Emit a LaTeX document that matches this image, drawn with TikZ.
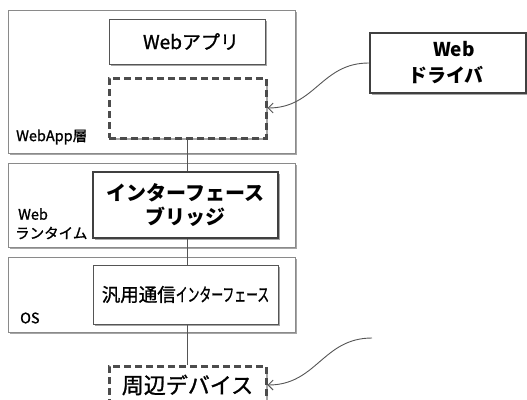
\documentclass[tikz,border=0pt]{standalone}
\usepackage{fontspec}
\setmainfont{Noto Sans CJK JP}[UprightFeatures={FakeBold=1.2}]
\usetikzlibrary{shadows,arrows.meta}
\definecolor{edge}{HTML}{555555}
\definecolor{layeredge}{HTML}{8A8A8A}
\tikzset{
  shd/.style={drop shadow={shadow xshift=2pt,shadow yshift=-2pt,fill=black,opacity=0.35}},
  layer/.style={draw=layeredge,line width=0.8pt,fill=white,shd,inner sep=0pt},
  plainbox/.style={draw=edge,line width=1pt,fill=white,shd,inner sep=0pt,align=center},
  thickbox/.style={draw=black!75,line width=2.5pt,fill=white,shd,inner sep=0pt,align=center,font=\bfseries},
  dashbox/.style={draw=black!70,line width=3pt,dash pattern=on 7pt off 4pt,fill=white,shd,inner sep=0pt,align=center},
  link/.style={draw=edge,line width=1pt},
  curvearrow/.style={draw=edge,line width=0.9pt,-{Straight Barb[length=5pt,width=10pt]}},
  lbl/.style={anchor=west,inner sep=0pt,font=\fontsize{14.5}{16}\selectfont}
}
\begin{document}
\begin{tikzpicture}[x=1pt,y=-1pt]
\useasboundingbox (0,0) rectangle (527,399);
\clip (0,0) rectangle (527,399);
% layers
\node[layer,minimum width=287pt,minimum height=143pt] (applayer) at (151.5,81.5) {};
\node[layer,minimum width=287pt,minimum height=84pt] (rtlayer) at (151.5,205) {};
\node[layer,minimum width=287pt,minimum height=75pt] (oslayer) at (151.5,294.5) {};
\node[lbl] (applbl) at (16,137) {WebApp層};
\node[lbl] (rtlbl1) at (18,214) {Web};
\node[lbl] (rtlbl2) at (15,233) {ランタイム};
\node[lbl] (oslbl) at (20,318) {OS};
% inner boxes
\node[plainbox,minimum width=156pt,minimum height=45pt,font=\fontsize{19}{20}\selectfont] (webapp) at (187,41.5) {\hspace*{8pt}Webアプリ};
\node[dashbox,minimum width=157pt,minimum height=60pt] (hidden) at (187.5,108) {};
\node[thickbox,minimum width=185pt,minimum height=66pt,font=\bfseries\fontsize{20}{24}\selectfont] (bridge) at (185.5,205) {インターフェース\\ブリッジ};
\node[plainbox,minimum width=185pt,minimum height=59pt,font=\fontsize{18.5}{20}\selectfont] (generic) at (185.5,294.5) {汎用通信\scalebox{0.64}[1]{インターフェース}};
\node[dashbox,minimum width=157pt,minimum height=38pt,font=\fontsize{22}{24}\selectfont] (device) at (187.5,385) {\raisebox{-4pt}{周辺デバイス}};
\node[thickbox,minimum width=156pt,minimum height=60pt,font=\bfseries\fontsize{19}{26}\selectfont] (driver) at (448,63) {\hspace*{12pt}Web\\ドライバ\hspace*{4pt}};
% connectors
\draw[link] (hidden.south) -- (hidden.south |- bridge.north);
\draw[link] (hidden.south |- bridge.south) -- (hidden.south |- generic.north);
\draw[link] (hidden.south |- generic.south) -- (device.north);
\coordinate (devsrc) at (372,338);
\draw[curvearrow] (driver.west) to[out=180,in=0,looseness=1.1] (hidden.east);
\draw[curvearrow] (devsrc) to[out=180,in=0,looseness=1.1] (device.east);
\end{tikzpicture}
\end{document}
